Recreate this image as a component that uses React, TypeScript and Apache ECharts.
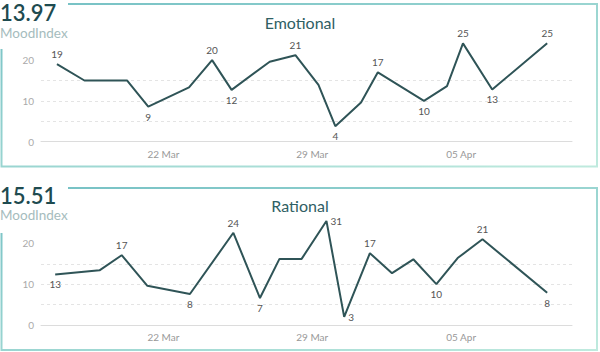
import React, { useEffect, useRef } from "react";
import * as echarts from "echarts";

// ---- Data ----
const emoDates = ["2020-03-17 00:00","2020-03-18 07:00","2020-03-20 07:00","2020-03-21 07:00","2020-03-23 05:00","2020-03-24 07:00","2020-03-25 05:00","2020-03-27 00:00","2020-03-28 05:00","2020-03-29 07:00","2020-03-30 02:00","2020-03-31 07:00","2020-04-01 02:00","2020-04-03 06:00","2020-04-04 08:00","2020-04-05 02:00","2020-04-06 11:00","2020-04-09 01:00"];
const emoValues = [19.0,15.0,15.0,8.6,13.3,20.0,12.7,19.6,21.2,13.9,3.8,9.6,17.0,10.0,13.6,24.1,12.8,24.1];
const emoLabels: (number | null)[] = [19,null,null,9,null,20,12,null,21,null,4,null,17,10,null,25,13,25];

const ratDates = ["2020-03-16 22:00","2020-03-19 00:00","2020-03-20 01:00","2020-03-21 06:00","2020-03-23 06:00","2020-03-25 07:00","2020-03-26 13:00","2020-03-27 11:00","2020-03-28 12:00","2020-03-29 16:00","2020-03-30 12:00","2020-03-31 17:00","2020-04-01 18:00","2020-04-02 18:00","2020-04-03 20:00","2020-04-04 20:00","2020-04-06 00:00","2020-04-09 01:00"];
const ratValues = [12.4,13.4,17.1,9.6,7.6,22.6,6.6,16.2,16.2,25.5,2.0,17.6,12.7,16.1,10.0,16.4,21.0,7.9];
const ratLabels: (number | null)[] = [13,null,17,null,8,24,7,null,null,31,3,17,null,null,10,null,21,8];

const emoIndex = "13.97";
const ratIndex = "15.51";
const panelTitles = ["Emotional", "Rational"];
const indexName = "MoodIndex";

const tickDates = [new Date(2020, 2, 22).getTime(), new Date(2020, 2, 29).getTime(), new Date(2020, 3, 5).getTime()];
const tickLabels = ["22 Mar", "29 Mar", "05 Apr"];
const yLabelValues = [0, 10, 20];
const yGridValues = [0, 5, 10, 15, 20];

// label placement (style)
const emoPos = ["top",null,null,"bottom",null,"top","bottom",null,"top",null,"bottom",null,"top","bottom",null,"top","bottom","top"];
const ratPos = ["bottom",null,"top",null,"bottom","top","bottom",null,null,"right","right","top",null,null,"bottom",null,"top","bottom"];

const FONT = "Lato";
const xMin = new Date(2020, 2, 16, 6).getTime();
const xMax = new Date(2020, 3, 10, 5).getTime();

function parseDate(s: string) {
  const [d, t] = s.split(" ");
  const [y, m, dd] = d.split("-").map(Number);
  const [h, mi] = t.split(":").map(Number);
  return new Date(y, m - 1, dd, h, mi).getTime();
}

function buildData(dates: string[], values: number[], labels: (number | null)[], pos: (string | null)[]) {
  return dates.map((d, i) => {
    const lab = labels[i];
    return {
      value: [parseDate(d), values[i]],
      label: lab === null
        ? { show: false }
        : {
            show: true,
            position: pos[i] || "top",
            distance: pos[i] === "right" ? 4 : 5,
            formatter: String(lab),
            color: "#555",
            fontSize: 10,
            fontFamily: FONT,
          },
    };
  });
}

function xAxisCfg(gridIndex: number) {
  return {
    type: "value",
    gridIndex,
    min: xMin,
    max: xMax,
    axisLine: { onZero: true, lineStyle: { color: "#dcdcdc", width: 1 } },
    axisTick: { show: false, customValues: tickDates },
    splitLine: { show: false },
    axisLabel: {
      customValues: tickDates,
      color: "#999",
      fontSize: 10,
      fontFamily: FONT,
      margin: 7,
      hideOverlap: false,
      formatter: (v: number) => {
        const i = tickDates.indexOf(v);
        return i >= 0 ? tickLabels[i] : "";
      },
    },
  };
}

function yAxisCfg(gridIndex: number) {
  return {
    type: "value",
    gridIndex,
    min: 0,
    max: 26,
    axisLine: { show: false },
    axisTick: { show: false, customValues: yGridValues },
    axisLabel: { customValues: yLabelValues, color: "#aaa", fontSize: 10, fontFamily: FONT, margin: 7 },
    splitLine: { show: true, showMinLine: false, showMaxLine: false, lineStyle: { color: "#e4e4e4", type: [3, 3], width: 1 } },
  };
}

function frame(top: number, bottom: number, leftStart: number) {
  return {
    type: "polyline",
    shape: { points: [[68, top], [597, top], [597, bottom], [1.5, bottom], [1.5, leftStart]] },
    style: {
      fill: "none",
      lineWidth: 2,
      stroke: new echarts.graphic.LinearGradient(0, 0, 1, 1, [
        { offset: 0, color: "#74c0c4" },
        { offset: 1, color: "#bfeade" },
      ]),
    },
    silent: true,
  };
}

function headText(text: string, y: number, size: number, color: string, weight: any) {
  return {
    type: "text",
    x: 0,
    y,
    style: { text, fontSize: size, fontWeight: weight, fontFamily: FONT, fill: color, verticalAlign: "middle", align: "left" },
  };
}

export default function App() {
  const ref = useRef<HTMLDivElement>(null);
  useEffect(() => {
    if (!ref.current) return;
    const chart = echarts.init(ref.current, null, { renderer: "svg" });
    chart.setOption({
      animation: false,
      backgroundColor: "#ffffff",
      title: [
        { text: panelTitles[0], left: "center", top: 9, textStyle: { fontSize: 16, fontWeight: "normal", color: "#2f6064", fontFamily: FONT } },
        { text: panelTitles[1], left: "center", top: 192, textStyle: { fontSize: 16, fontWeight: "normal", color: "#2f6064", fontFamily: FONT } },
      ],
      grid: [
        { left: 41, right: 28, top: 35.6, bottom: 210.3 },
        { left: 41, right: 28, top: 218.9, bottom: 27 },
      ],
      xAxis: [xAxisCfg(0), xAxisCfg(1)],
      yAxis: [yAxisCfg(0), yAxisCfg(1)],
      graphic: [
        frame(4, 166.5, 49),
        frame(188, 350, 233),
        headText(emoIndex, 12, 22, "#1e4b50", 600),
        headText(indexName, 33, 13.5, "#a5bcbd", "normal"),
        headText(ratIndex, 195, 22, "#1e4b50", 600),
        headText(indexName, 215, 13.5, "#a5bcbd", "normal"),
      ],
      series: [
        {
          type: "line",
          xAxisIndex: 0,
          yAxisIndex: 0,
          data: buildData(emoDates, emoValues, emoLabels, emoPos),
          showSymbol: true,
          symbol: "circle",
          symbolSize: 0,
          lineStyle: { color: "#2f5457", width: 2 },
          itemStyle: { color: "#2f5457" },
          labelLayout: { hideOverlap: false },
        },
        {
          type: "line",
          xAxisIndex: 1,
          yAxisIndex: 1,
          data: buildData(ratDates, ratValues, ratLabels, ratPos),
          showSymbol: true,
          symbol: "circle",
          symbolSize: 0,
          lineStyle: { color: "#2f5457", width: 2 },
          itemStyle: { color: "#2f5457" },
          labelLayout: { hideOverlap: false },
        },
      ],
    });
    return () => chart.dispose();
  }, []);
  return <div ref={ref} style={{ position: "fixed", left: 0, top: 0, width: 600, height: 352 }} />;
}
